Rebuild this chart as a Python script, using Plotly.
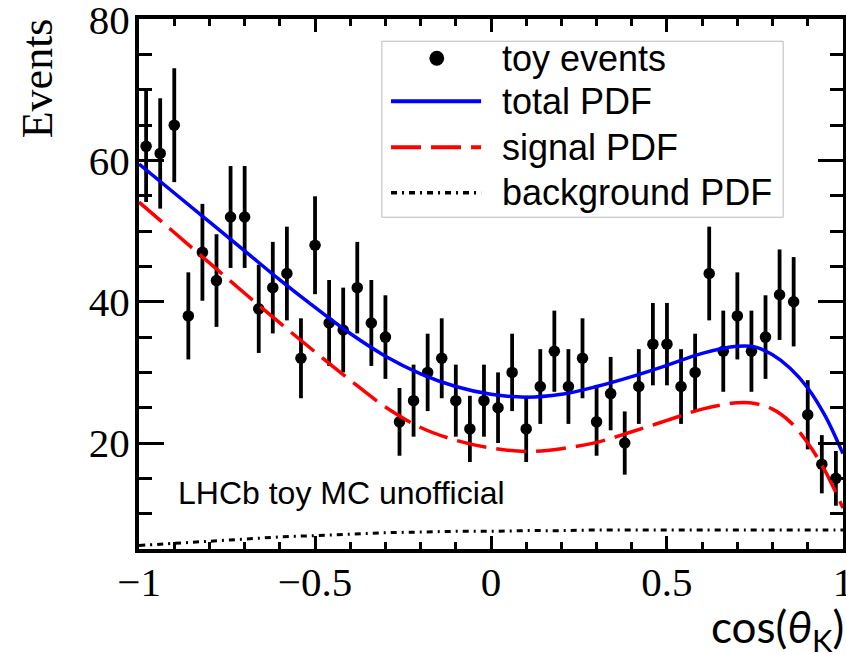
import plotly.graph_objects as go

# ---- data -------------------------------------------------------------
bin_centers = [-0.98, -0.94, -0.90, -0.86, -0.82, -0.78, -0.74, -0.70, -0.66, -0.62,
               -0.58, -0.54, -0.50, -0.46, -0.42, -0.38, -0.34, -0.30, -0.26, -0.22,
               -0.18, -0.14, -0.10, -0.06, -0.02, 0.02, 0.06, 0.10, 0.14, 0.18,
               0.22, 0.26, 0.30, 0.34, 0.38, 0.42, 0.46, 0.50, 0.54, 0.58,
               0.62, 0.66, 0.70, 0.74, 0.78, 0.82, 0.86, 0.90, 0.94, 0.98]
counts = [62, 61, 65, 38, 47, 43, 52, 52, 39, 42,
          44, 32, 48, 37, 36, 42, 37, 35, 23, 26,
          30, 32, 26, 22, 26, 25, 30, 22, 28, 33,
          28, 32, 23, 27, 20, 28, 34, 34, 28, 30,
          44, 33, 38, 33, 35, 41, 40, 24, 17, 15]

curve_x = [-1.0, -0.9, -0.8, -0.7, -0.6, -0.5, -0.4, -0.3, -0.2, -0.1, 0.0, 0.1,
           0.2, 0.3, 0.4, 0.5, 0.6, 0.7, 0.75, 0.8, 0.85, 0.9, 0.95, 1.0]
total_pdf = [59.5, 55.4, 51.3, 47.2, 43.1, 39.2, 35.5, 32.3, 29.8, 28.0, 26.9, 26.5,
             26.9, 28.0, 29.4, 31.0, 32.7, 33.7, 33.6, 32.5, 30.6, 27.8, 23.8, 18.5]
signal_pdf = [54.1, 49.8, 45.5, 41.2, 37.0, 32.9, 28.9, 25.1, 22.2, 20.4, 19.3, 18.8,
              19.2, 20.1, 21.6, 23.2, 24.8, 25.7, 25.6, 24.8, 23.0, 20.0, 16.0, 10.8]
background_pdf = [5.5, 5.8, 6.1, 6.4, 6.7, 6.9, 7.1, 7.3, 7.4, 7.5, 7.5, 7.6,
                  7.6, 7.7, 7.7, 7.7, 7.7, 7.7, 7.7, 7.7, 7.7, 7.7, 7.7, 7.7]

x_tick_vals = [-1, -0.5, 0, 0.5, 1]
y_tick_vals = [20, 40, 60, 80]

legend_labels = ["toy events", "total PDF", "signal PDF", "background PDF"]

# ---- figure -----------------------------------------------------------
fig = go.Figure()

fig.add_trace(go.Scatter(
    x=bin_centers, y=counts, mode="markers", name=legend_labels[0],
    marker=dict(color="black", size=11.5),
    error_y=dict(type="sqrt", color="black", thickness=3.8, width=0),
    showlegend=False, cliponaxis=True))

fig.add_trace(go.Scatter(
    x=curve_x, y=background_pdf, mode="lines", name=legend_labels[3],
    line=dict(color="black", width=3, dash="6px,5px,2px,5px", shape="spline"),
    showlegend=False))
fig.add_trace(go.Scatter(
    x=curve_x, y=signal_pdf, mode="lines", name=legend_labels[2],
    line=dict(color="#ff0000", width=3.5, dash="30px,10px", shape="spline"),
    showlegend=False))
fig.add_trace(go.Scatter(
    x=curve_x, y=total_pdf, mode="lines", name=legend_labels[1],
    line=dict(color="#0000ff", width=3.5, shape="spline"),
    showlegend=False))

axis_common = dict(showline=True, linecolor="black", linewidth=4, mirror="allticks",
                   ticks="inside", tickcolor="black", tickwidth=3,
                   showgrid=False, zeroline=False, automargin=False,
                   tickfont=dict(family="Liberation Serif", size=41, color="black"))

fig.update_xaxes(range=[-1.0002, 1.0002], tickmode="array", tickvals=x_tick_vals, ticklen=13,
                 ticklabelstandoff=-6, ticklabeloverflow="allow",
                 minor=dict(ticks="inside", ticklen=7, tickwidth=3, tickcolor="black",
                            tickmode="linear", tick0=0, dtick=0.1),
                 **axis_common)
fig.update_yaxes(range=[5, 80.03], tickmode="array", tickvals=y_tick_vals, ticklen=25,
                 ticklabelstandoff=-3, ticklabeloverflow="allow",
                 minor=dict(ticks="inside", ticklen=13, tickwidth=3, tickcolor="black",
                            tickmode="linear", tick0=0, dtick=5),
                 **axis_common)

# ---- custom legend (box, samples, labels) ----
shapes = [dict(type="rect", xref="paper", yref="paper", x0=0.345, x1=0.915, y0=0.626, y1=0.958,
               line=dict(color="#bbbbbb", width=1), fillcolor="white", layer="above")]
leg_y = [0.926, 0.845, 0.758, 0.672]
shapes.append(dict(type="circle", xref="paper", yref="paper",
                   x0=0.423 - 0.0105, x1=0.423 + 0.0105, y0=leg_y[0] - 0.014, y1=leg_y[0] + 0.014,
                   fillcolor="black", line=dict(color="black", width=0), layer="above"))
for yy, col, dash, w in [(leg_y[1], "#0000ff", "solid", 4),
                         (leg_y[2], "#ff0000", "30px,10px", 4),
                         (leg_y[3], "black", "6px,5px,2px,5px", 3.5)]:
    shapes.append(dict(type="line", xref="paper", yref="paper", x0=0.358, x1=0.486, y0=yy, y1=yy,
                       line=dict(color=col, width=w, dash=dash), layer="above"))

annotations = []
for yy, lab in zip(leg_y, legend_labels):
    annotations.append(dict(xref="paper", yref="paper", x=0.513, y=yy, text=lab, showarrow=False,
                            xanchor="left", yanchor="middle",
                            font=dict(family="Liberation Sans", size=36, color="black")))

annotations.append(dict(xref="paper", yref="paper", x=0.053, y=0.106, text="LHCb toy MC unofficial",
                        showarrow=False, xanchor="left", yanchor="middle",
                        font=dict(family="Liberation Sans", size=32, color="black")))
annotations.append(dict(xref="paper", yref="paper", x=-0.145, y=0.888, text="Events",
                        showarrow=False, textangle=-90, xanchor="center", yanchor="middle",
                        font=dict(family="Liberation Serif", size=44, color="black")))
annotations.append(dict(xref="paper", yref="paper", x=1.004, y=-0.152,
                        text="cos(<i>θ</i><sub>K</sub>)",
                        showarrow=False, xanchor="right", yanchor="middle",
                        font=dict(family="Lato", size=44, color="black")))

fig.update_layout(width=846, height=654, margin=dict(l=139, r=3, t=19, b=105),
                  plot_bgcolor="white", paper_bgcolor="white", showlegend=False,
                  shapes=shapes, annotations=annotations)

fig.write_html("out.html")
